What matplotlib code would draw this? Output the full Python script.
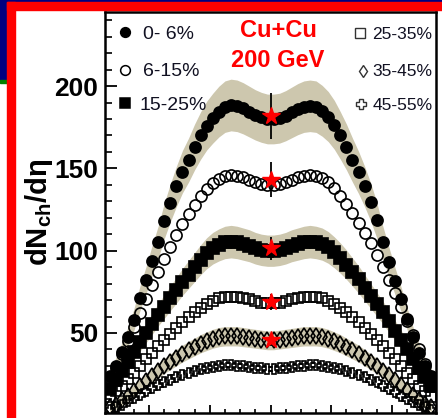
import matplotlib
matplotlib.use("Agg")
import matplotlib.pyplot as plt
from matplotlib.patches import Rectangle
from matplotlib.ticker import MultipleLocator
import numpy as np

plt.rcParams["font.family"] = ["Liberation Sans", "DejaVu Sans"]
plt.rcParams["mathtext.fontset"] = "custom"
plt.rcParams["mathtext.bf"] = "Liberation Sans:bold"
plt.rcParams["mathtext.rm"] = "Liberation Sans:bold"
plt.rcParams["mathtext.default"] = "bf"

# pseudorapidity bin centres
eta = [-5.3, -5.1, -4.9, -4.7, -4.5, -4.3, -4.1, -3.9, -3.7, -3.5, -3.3, -3.1,
       -2.9, -2.7, -2.5, -2.3, -2.1, -1.9, -1.7, -1.5, -1.3, -1.1, -0.9, -0.7,
       -0.5, -0.3, -0.1, 0.1, 0.3, 0.5, 0.7, 0.9, 1.1, 1.3, 1.5, 1.7, 1.9, 2.1,
       2.3, 2.5, 2.7, 2.9, 3.1, 3.3, 3.5, 3.7, 3.9, 4.1, 4.3, 4.5, 4.7, 4.9,
       5.1, 5.3]

# dN/deta per centrality class
c0_6 = [24, 30, 38.5, 47.5, 58, 71, 82, 94, 105, 118, 129, 139,
        148, 155, 163, 170, 176, 180.5, 184.5, 187.5, 188.5, 188, 186.5, 184.5,
        182.5, 181, 180, 180, 180.5, 182, 184, 186, 187.5, 188, 187.5, 185, 181.5, 176.5,
        170, 163, 155, 147.5, 139, 129.5, 118.5, 105, 93, 81.5, 70.5, 58.5, 47.5, 38,
        30, 24]
c6_15 = [21, 29, 37, 45, 53.5, 62, 70.5, 79, 87, 95, 102.5, 109.5,
         116, 122, 128, 133, 137.5, 141, 143.5, 145.5, 146, 145.5, 144.5, 143,
         141.5, 140.5, 140, 140, 140.5, 141.5, 143, 144.5, 145.5, 146, 145.5, 144, 141.5, 138,
         133.5, 128.5, 123, 117, 111, 104.5, 97.5, 90, 82, 74, 65.5, 57, 48.5, 40,
         31, 23]
c15_25 = [16, 21.5, 27, 32.5, 38.5, 44.5, 50, 55.5, 61, 66, 71, 76,
          81, 85.5, 90, 94.5, 98.5, 101.5, 103.5, 105, 105.5, 105, 104, 103,
          101.5, 100.5, 100, 100, 100.5, 101.5, 103, 104, 105, 105.5, 105, 104, 102, 99,
          95.5, 91.5, 87, 82.5, 77.5, 72.5, 67.5, 62.5, 57, 51.5, 46, 40, 34, 28.5,
          23, 17.5]
c25_35 = [11, 14.5, 18, 22, 26, 30, 34, 38, 42, 46, 49.5, 53,
          56.5, 59.5, 62.5, 65, 67.5, 69.5, 71, 72, 72, 72, 71.5, 70.5,
          69.5, 68.5, 68, 68, 68.5, 69.5, 70.5, 71.5, 72, 72, 72, 71, 69.5, 67.5,
          65, 62.5, 59.5, 56.5, 53, 49.5, 46, 42, 38, 34, 30, 26, 22, 18,
          14.5, 11]
c35_45 = [5, 6.5, 9, 12, 15, 18, 21, 24, 27, 30, 32.5, 35,
          37.5, 39.5, 41.5, 43.5, 45, 46.5, 47.5, 48, 48, 48, 47.5, 47,
          46.5, 46, 45.5, 45.5, 46, 46.5, 47, 47.5, 48, 48, 48, 47.5, 46.5, 45,
          43.5, 41.5, 39.5, 37.5, 35, 32.5, 30, 27, 24.5, 21.5, 18.5, 15.5, 12.5, 9.5,
          7, 5]
c45_55 = [3.5, 5, 6.5, 8.5, 10.5, 12.5, 14.5, 16.5, 18.5, 20, 21.5, 23,
          24.5, 26, 27, 28, 29, 29.5, 30, 30.5, 30.5, 30, 30, 29.5,
          29, 28.5, 28, 28, 28.5, 29, 29.5, 30, 30, 30.5, 30.5, 30, 29.5, 29,
          28, 27, 26, 24.5, 23, 21.5, 20, 18, 16, 14, 12, 10, 8, 6.5,
          5, 3.5]

# midrapidity points (red stars) and their errors
mid_vals = [181.8, 143.0, 101.6, 68.8, 45.7]
mid_errs = [13.7, 10.6, 7.0, 5.0, 3.5]

SYS_REL = 0.07
SYS_ABS = 2.5

BAND = "#cdc7ae"

fig = plt.figure(figsize=(4.42, 4.18), dpi=100)

# slide background pieces around the figure
W, H = 442.0, 418.0
fig.patches.append(Rectangle((0, 1 - 2 / H), 1, 2 / H, transform=fig.transFigure,
                             color="#000080", zorder=0))
fig.patches.append(Rectangle((0, 1 - 80 / H), 7 / W, 80 / H, transform=fig.transFigure,
                             color="#000080", zorder=0))
fig.patches.append(Rectangle((0, 1 - 83 / H), 7 / W, 3 / H, transform=fig.transFigure,
                             color="#008000", zorder=0))
fig.patches.append(Rectangle((7 / W, 1 - 10 / H), 1 - 7 / W, 8 / H, transform=fig.transFigure,
                             color="#ff0000", zorder=0))
fig.patches.append(Rectangle((7 / W, 0), 8 / W, 1 - 2 / H, transform=fig.transFigure,
                             color="#ff0000", zorder=0))

ax = fig.add_axes([105 / W, 5 / H, 331 / W, 401 / H])

x = np.array(eta)
for vals in (c0_6, c15_25, c35_45):
    v = np.array(vals)
    err = SYS_REL * v + SYS_ABS
    ax.fill_between(x, v - err, v + err, color=BAND, lw=0, zorder=1)

ms = 8
mew = 1.2
ax.plot(x, c45_55, ls="none", marker="P", ms=7.5, mfc="none", mec="black", mew=mew, zorder=2)
ax.plot(x, c35_45, ls="none", marker="d", ms=8, mfc="none", mec="black", mew=mew, zorder=2)
ax.plot(x, c25_35, ls="none", marker="s", ms=7.5, mfc="none", mec="black", mew=mew, zorder=2)
ax.plot(x, c15_25, ls="none", marker="s", ms=8, mfc="black", mec="black", mew=mew, zorder=2)
ax.plot(x, c6_15, ls="none", marker="o", ms=ms, mfc="none", mec="black", mew=mew, zorder=2)
ax.plot(x, c0_6, ls="none", marker="o", ms=ms, mfc="black", mec="black", mew=mew, zorder=2)

ax.errorbar([0] * len(mid_vals), mid_vals, yerr=mid_errs, fmt="none", ecolor="black",
            elinewidth=1.3, capsize=0, zorder=3)
ax.plot([0] * len(mid_vals), mid_vals, ls="none", marker="*", ms=13, mfc="#ff0000",
        mec="#ff0000", zorder=4)

ax.set_xlim(-5.45, 5.45)
ax.set_ylim(1.4, 245)
ax.xaxis.set_major_locator(MultipleLocator(2))
ax.xaxis.set_minor_locator(MultipleLocator(0.5))
ax.yaxis.set_major_locator(MultipleLocator(50))
ax.yaxis.set_minor_locator(MultipleLocator(10))
ax.set_yticks([50, 100, 150, 200])
ax.tick_params(axis="x", which="major", direction="in", length=6, width=1.3, labelbottom=False)
ax.tick_params(axis="x", which="minor", direction="in", length=3, width=1.2)
ax.tick_params(axis="y", which="major", direction="in", length=8.5, width=1.3, pad=5,
               labelsize=19)
ax.tick_params(axis="y", which="minor", direction="in", length=5, width=1.2)
for lab in ax.get_yticklabels():
    lab.set_fontweight("bold")
for sp in ax.spines.values():
    sp.set_linewidth(1.8)

ax.set_ylabel("dN$_{ch}$/dη", fontsize=21, fontweight="bold")
ax.yaxis.set_label_coords(-0.15, 0.5)

# legend, left column
leg_left = [("o", "black", "0- 6%", 0.115), ("o", "none", "6-15%", 0.115),
            ("s", "black", "15-25%", 0.103)]
ys = [0.945, 0.852, 0.768]
for (m, fc, txt, tx), yy in zip(leg_left, ys):
    ax.plot([0.060], [yy + 0.004], transform=ax.transAxes, marker=m, ms=7, mfc=fc,
            mec="black", mew=1.1, ls="none", clip_on=False)
    ax.text(tx, yy, txt, transform=ax.transAxes, fontsize=14, va="center", ha="left",
            color="#111122")

# legend, right column
leg_right = [("s", 0.770, "25-35%"), ("d", 0.779, "35-45%"), ("P", 0.773, "45-55%")]
for (m, mx, txt), yy in zip(leg_right, ys):
    ax.plot([mx], [yy + 0.002], transform=ax.transAxes, marker=m, ms=6.5, mfc="none",
            mec="#333333", mew=1.0, ls="none", clip_on=False)
    ax.text(0.808, yy, txt, transform=ax.transAxes, fontsize=12.5, va="center",
            ha="left", color="#111122")

ax.text(0.523, 0.953, "Cu+Cu", transform=ax.transAxes, fontsize=17, fontweight="bold",
        color="#ff0000", ha="center", va="center")
ax.text(0.523, 0.878, "200 GeV", transform=ax.transAxes, fontsize=17, fontweight="bold",
        color="#ff0000", ha="center", va="center")

fig.savefig("out.png", dpi=100)
